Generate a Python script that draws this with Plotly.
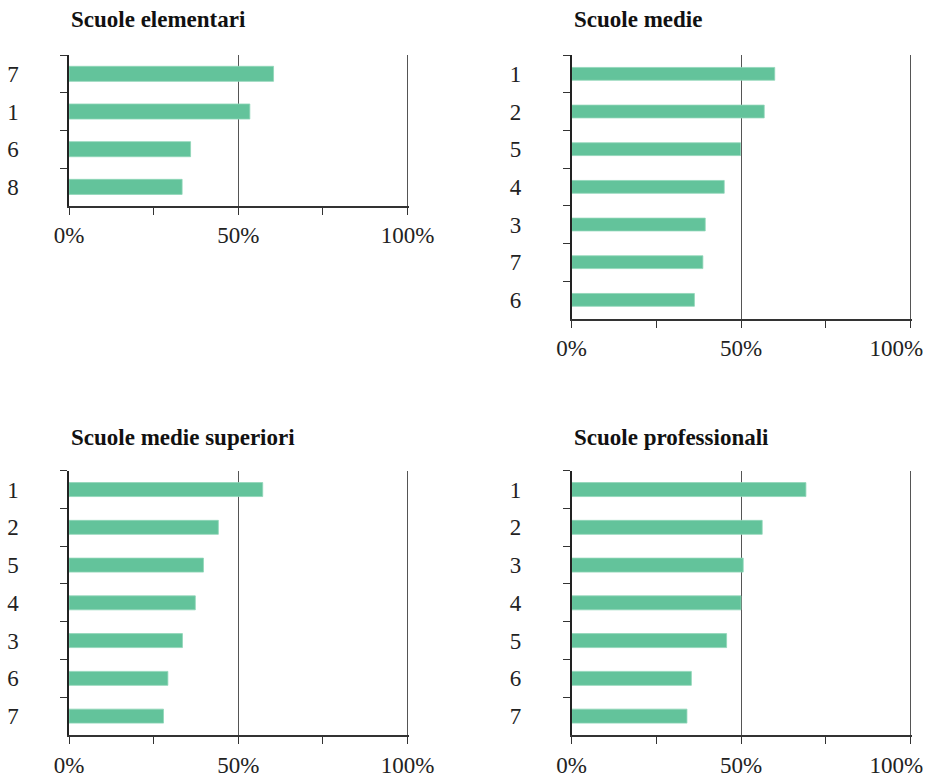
import plotly.graph_objects as go

# ---- data ----
titles = ["Scuole elementari", "Scuole medie", "Scuole medie superiori", "Scuole professionali"]

elem_cats = ["7", "1", "6", "8"]
elem_vals = [60.4, 53.4, 35.9, 33.4]

medie_cats = ["1", "2", "5", "4", "3", "7", "6"]
medie_vals = [59.9, 56.8, 49.8, 45.0, 39.4, 38.7, 36.2]

sup_cats = ["1", "2", "5", "4", "3", "6", "7"]
sup_vals = [57.2, 44.1, 39.7, 37.3, 33.5, 29.2, 27.9]

prof_cats = ["1", "2", "3", "4", "5", "6", "7"]
prof_vals = [69.1, 56.2, 50.6, 49.95, 45.7, 35.3, 34.0]

x_tickvals = [0, 50, 100]
x_ticktext = ["0%", "50%", "100%"]
x_minor = [25, 75]

NB = "\u00a0"
right_ticktext = x_ticktext[:2] + [x_ticktext[2] + NB * 5]
panels = [
    (elem_cats, elem_vals, 0.40, x_ticktext),
    (medie_cats, medie_vals, 0.34, right_ticktext),
    (sup_cats, sup_vals, 0.37, x_ticktext),
    (prof_cats, prof_vals, 0.37, right_ticktext),
]

W, H = 925, 775
bar_color = "#63c39b"
font_family = "Liberation Serif, Times New Roman, serif"

# panel pixel boxes: (left, right, top, bottom)
boxes = [
    (69, 409, 55, 205.7),
    (571.7, 912, 55, 318.7),
    (69, 409, 470.7, 735),
    (571.7, 912, 470.7, 735),
]
title_pos = [(69, 20), (572, 20), (69, 437), (572, 437)]

fig = go.Figure()
layout = dict(
    width=W, height=H,
    margin=dict(l=0, r=0, t=0, b=0, autoexpand=False),
    paper_bgcolor="white", plot_bgcolor="white",
    showlegend=False,
    font=dict(family=font_family, size=23, color="#222"),
    annotations=[],
)

for i, ((cats, vals, bw, ttext), (l, r, t, b)) in enumerate(zip(panels, boxes)):
    n = "" if i == 0 else str(i + 1)
    fig.add_trace(go.Bar(
        x=vals, y=cats, orientation="h",
        marker=dict(color=bar_color, line=dict(color="#8fd6b7", width=0.8)),
        width=bw,
        xaxis="x" + n, yaxis="y" + n,
        hoverinfo="x+y",
    ))
    layout["xaxis" + n] = dict(
        domain=[l / W, r / W], anchor="y" + n,
        range=[0, 100.4], fixedrange=True, automargin=False,
        tickvals=x_tickvals, ticktext=ttext,
        ticks="outside", ticklen=7, tickcolor="#333", tickwidth=1,
        showgrid=True, gridcolor="#555", gridwidth=1,
        zeroline=False,
        showline=True, linecolor="#333", linewidth=1.8,
        ticklabelstandoff=1, ticklabeloverflow="allow",
        tickfont=dict(size=23, family=font_family, color="#222"),
        minor=dict(tickvals=x_minor, ticks="outside", ticklen=7, tickcolor="#333", showgrid=False),
    )
    layout["yaxis" + n] = dict(
        domain=[1 - b / H, 1 - t / H], anchor="x" + n,
        type="category", categoryorder="array", categoryarray=cats,
        autorange="reversed", fixedrange=True, automargin=False,
        tickson="boundaries", ticks="outside", ticklen=7, tickcolor="#333", tickwidth=1,
        showgrid=False, zeroline=False,
        showline=True, linecolor="#222", linewidth=1.5,
        ticklabelstandoff=44,
        tickfont=dict(size=23, family=font_family, color="#222"),
    )
    tx, ty = title_pos[i]
    layout["annotations"].append(dict(
        text="<b>" + titles[i] + "</b>", xref="paper", yref="paper",
        x=tx / W, y=1 - ty / H, xanchor="left", yanchor="middle",
        showarrow=False, font=dict(size=23, family=font_family, color="#111"),
    ))

fig.update_layout(**layout)
fig.write_html(
    "out.html",
    config={"displayModeBar": False},
    post_script="document.body.style.margin='0';document.body.style.overflow='hidden';",
)
